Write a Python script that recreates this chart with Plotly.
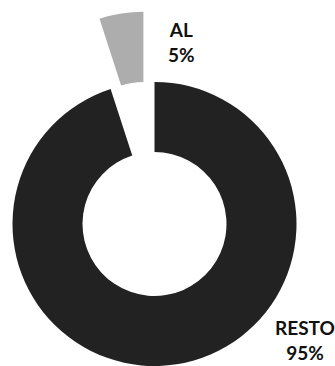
import math
import plotly.graph_objects as go

# Share of the total, in percent
labels = ["AL", "RESTO"]
values = [5, 95]

# Styling
colors = ["#adadad", "#222222"]
pulled = "AL"          # slice shown detached from the ring
pull_frac = 0.5        # detachment, as a fraction of the radius

W, H = 335, 366
CX, CY, R = 154.5, 224.0, 142.0   # ring centre and radius, in pixels
HOLE = 0.507

total = sum(values)
# first slice ends at 12 o'clock and the rest run counterclockwise from it
ROTATION = -values[0] / total * 360


def domain(cx, cy, r):
    return dict(x=[(cx - r) / W, (cx + r) / W],
                y=[max(0.0, 1 - (cy + r) / H), min(1.0, 1 - (cy - r) / H)])


def ring(keep, cx, cy):
    return go.Pie(
        labels=labels,
        values=values,
        sort=False,
        direction="counterclockwise",
        rotation=ROTATION,
        hole=HOLE,
        textinfo="none",
        hoverinfo="skip",
        showlegend=False,
        marker=dict(
            colors=[c if keep(l) else "rgba(0,0,0,0)" for l, c in zip(labels, colors)],
            line=dict(width=0),
        ),
        domain=domain(cx, cy, R),
    )


# middle of the detached slice, as an angle counterclockwise from 12 o'clock
start = sum(values[: labels.index(pulled)])
mid = (start + values[labels.index(pulled)] / 2) / total * 2 * math.pi
dx = -math.sin(mid) * pull_frac * R
dy = -math.cos(mid) * pull_frac * R

fig = go.Figure()
fig.add_trace(ring(lambda l: l != pulled, CX, CY))
fig.add_trace(ring(lambda l: l == pulled, CX + dx, CY + dy))

label_pos = {"AL": (182, 42), "RESTO": (305, 340)}
for lab, val in zip(labels, values):
    px, py = label_pos[lab]
    fig.add_annotation(
        x=px / W, y=1 - py / H, xref="paper", yref="paper",
        text=f"{lab}<br>{val}%", showarrow=False,
        xanchor="center", yanchor="middle", align="center",
        font=dict(family="Lato", size=19, color="#111111", weight=700),
    )

fig.update_layout(
    width=W, height=H,
    margin=dict(l=0, r=0, t=0, b=0),
    paper_bgcolor="white",
    plot_bgcolor="white",
)

fig.write_html("out.html")
